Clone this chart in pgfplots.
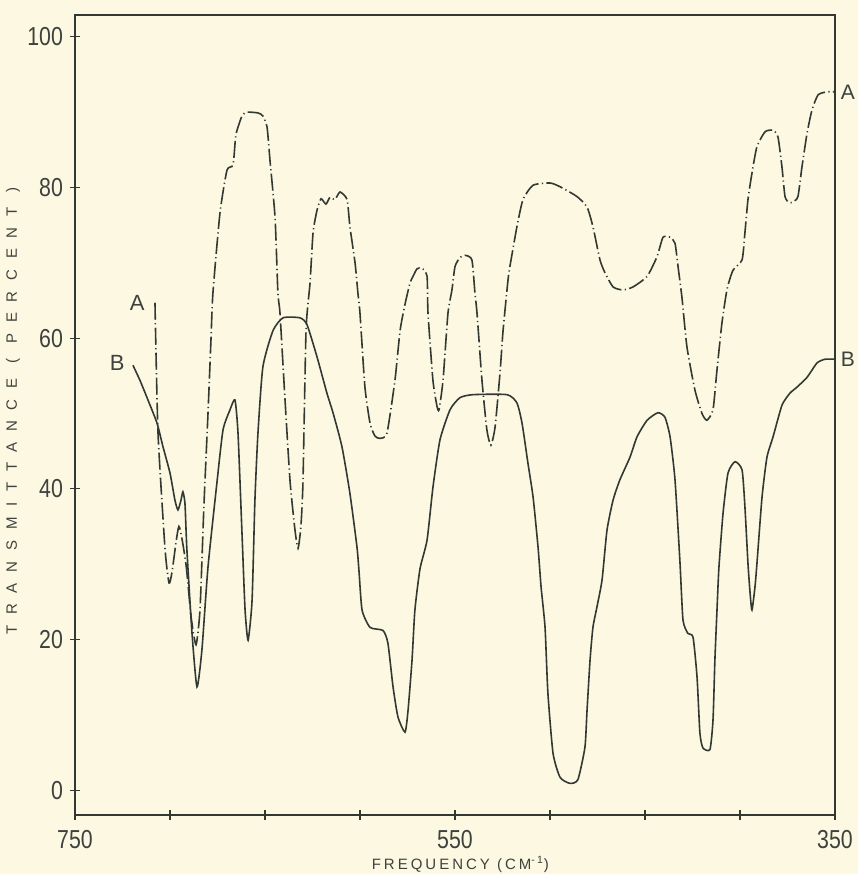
\documentclass[border=0pt]{standalone}
\usepackage{fontspec}
\setmainfont{Liberation Sans}[FakeStretch=0.82]
\newfontfamily\xlabfont[LetterSpace=20]{Liberation Sans}
\newfontfamily\ylabfont[LetterSpace=72]{Liberation Sans}
\newfontfamily\curvefont{Liberation Sans}
\usepackage{pgfplots}
\pgfplotsset{compat=1.18}
\usetikzlibrary{backgrounds}
\definecolor{paper}{HTML}{FCF8E2}
\definecolor{ink}{HTML}{323832}
\definecolor{txt}{HTML}{3E423E}
\begin{document}
\begin{tikzpicture}[background rectangle/.style={fill=paper,draw=none},
  show background rectangle, inner frame sep=0pt]
\begin{axis}[
  name=ax,
  scale only axis,
  width=380pt, height=400pt,
  x dir=reverse,
  xmin=350, xmax=750,
  ymin=-3.3, ymax=102.9,
  xtick={350,400,...,750},
  xticklabels={350,,,,550,,,,750},
  ytick={0,20,...,100},
  xtick pos=bottom, ytick pos=left,
  tick align=center,
  major tick length=5pt,
  axis line style={ink, line width=0.6pt},
  tick style={ink, line width=0.6pt},
  /pgf/number format/assume math mode=true,
  ticklabel style={font=\fontsize{13}{14}\selectfont, text=txt},
  xticklabel style={yshift=-1.5pt},
  xlabel={\xlabfont\fontsize{7.5}{9}\selectfont FREQUENCY (CM\textsuperscript{-1})},
  ylabel={\ylabfont\fontsize{7.5}{8}\selectfont TRANSMITTANCE ( PERCENT )},
  every axis x label/.style={at={(rel axis cs:0.507,0)}, yshift=-24.5pt, anchor=center, text=txt},
  every axis y label/.style={at={(rel axis cs:0,0.505)}, xshift=-31pt, anchor=center, rotate=90, text=txt},
  clip=false,
]
% curve A, dash-dot
\addplot[ink, line width=0.8pt, smooth, tension=0.35,
  dash pattern=on 8.5pt off 1.7pt on 0.6pt off 1.7pt] coordinates {
(707.9,64.7) (706.3,47.4) (702.6,32) (700.5,27.5) (698.9,29) (695.3,35) (691.6,30)
(688.9,23) (686.3,19.3) (684.2,24) (682.1,38) (680.0,50) (678.4,60) (677.4,66)
(673.7,76.6) (670.0,82.3) (666.8,83) (665.3,87) (662.1,89.5) (659.5,90) (653.7,89.9)
(651.1,89.5) (648.9,88) (647.4,83.7) (644.7,76) (643.2,66) (642.1,63.3) (639.5,52)
(636.8,41) (634.2,34.5) (632.6,32.1) (631.1,35) (630.0,41) (628.4,61) (626.3,67.3)
(624.7,74) (622.6,77) (620.5,78.5) (617.9,77.8) (615.8,78.7) (613.2,78.4) (610.5,79.4)
(606.8,78.4) (605.3,74.8) (602.6,70) (601.1,66) (600.0,63.3) (597.4,53.5) (594.7,48.7)
(592.1,47) (589.5,46.7) (585.8,47.4) (581.6,54.4) (578.9,61) (576.3,64.5) (573.7,67.3)
(572.1,68.2) (570.0,69.2) (567.4,69.3) (564.7,68.2) (564.2,63.3) (561.6,54.4) (559.5,51)
(558.4,50.5) (556.3,54.4) (553.7,63.3) (551.6,66.4) (550.0,69.5) (547.4,70.7) (544.7,71)
(541.1,70.4) (539.5,66) (538.4,63.3) (535.8,54.4) (533.2,47.8) (531.1,45.8) (528.9,48.2)
(526.3,55.4) (524.7,61) (522.1,67.7) (521.1,69.5) (517.4,74.8) (514.2,78.4) (508.9,80.3)
(500.0,80.6) (494.7,80.1) (485.8,78.8) (480.5,77.4) (477.4,74.8) (473.7,70.4) (471.1,68.7)
(466.8,66.8) (461.6,66.4) (456.3,66.8) (448.9,68.2) (443.7,70.8) (440.5,73.4) (436.8,73.4)
(434.2,72.6) (432.6,69.5) (430.5,65.3) (427.9,58.8) (423.7,53.1) (420.0,50) (417.4,49.1)
(414.2,50.5) (412.1,55.8) (409.5,62) (406.8,66.5) (403.7,69) (398.9,70.4) (397.4,74)
(395.8,78.4) (393.7,81.9) (391.1,85.4) (386.8,87.4) (382.6,87.6) (380.0,86.7) (377.9,82.7)
(376.3,78.8) (374.2,78) (372.1,78.1) (369.5,78.8) (367.4,82.7) (364.7,87.2) (362.1,90.3)
(358.9,92.3) (354.2,92.7) (350.0,92.7)
} node[pos=0, anchor=east, xshift=-1.5pt, text=txt, font=\curvefont\fontsize{11}{12}\selectfont] {A}
  node[pos=1, anchor=west, inner sep=0.5pt, xshift=2pt, text=txt, font=\curvefont\fontsize{10.5}{12}\selectfont] {A};
% curve B, solid
\addplot[ink, line width=0.8pt, smooth, tension=0.35] coordinates {
(719.5,56.4) (715.8,54.4) (711.6,51.8) (706.8,48.7) (703.7,45.6) (700.0,42.1) (697.4,38.5)
(695.8,37.2) (694.2,38.5) (693.2,39.6) (692.1,38) (691.1,31.9) (688.4,20.8) (685.8,13.7)
(683.2,18.6) (680.0,29.6) (675.3,40.8) (672.1,47.8) (668.4,50.5) (665.8,51.8) (664.2,47.4)
(662.1,34.1) (660.5,24) (658.9,19.9) (656.8,25.2) (655.3,38.5) (653.7,47.4) (651.1,56.2)
(645.8,61) (640.5,62.7) (631.6,62.7) (627.9,61.8) (622.6,57.5) (617.4,52.7) (614.2,50.1)
(609.5,45.6) (605.3,39.4) (601.6,32.3) (600.5,29) (598.9,23.9) (594.7,21.6) (587.9,21.2)
(585.3,19.5) (582.6,13.7) (580.0,9.7) (576.3,7.7) (574.7,10.6) (572.6,17.3) (571.1,23.9)
(568.4,29.4) (564.7,33.2) (561.6,40.2) (557.9,46.5) (552.6,50.5) (547.4,52.1) (540.5,52.5)
(522.6,52.5) (517.4,51.4) (514.7,48.7) (511.6,43.4) (508.9,38.9) (506.3,32.3) (504.7,27)
(502.6,21.6) (501.1,12.9) (498.4,4.9) (494.7,1.7) (489.5,0.9) (485.3,1.4) (481.6,5.7)
(480.5,10.6) (478.9,17.3) (477.4,21.6) (475.3,24.3) (472.6,27.9) (470.0,34.5) (466.8,38.5)
(463.2,41.2) (457.9,44.2) (454.2,46.9) (448.9,49.1) (443.2,50.1) (439.5,49.5) (436.8,46.9)
(434.2,41.2) (431.6,30.3) (430.0,22.6) (427.4,20.8) (424.7,20.3) (422.6,15) (421.1,7.6)
(419.5,5.6) (415.8,5.4) (414.2,9.3) (413.2,17.3) (412.1,23.9) (411.1,29.5) (408.9,36.8)
(406.3,42.1) (402.6,43.6) (398.9,42.5) (397.4,37.6) (395.8,30.1) (394.7,26.2) (393.7,23.9)
(392.1,27) (391.1,30) (388.4,38.9) (385.8,44.2) (382.6,46.9) (377.9,51.1) (373.7,52.7)
(370.0,53.5) (364.7,54.8) (359.5,56.7) (355.3,57.2) (350.0,57.2)
} node[pos=0, anchor=east, xshift=-0.5pt, yshift=1pt, text=txt, font=\curvefont\fontsize{11}{12}\selectfont] {B}
  node[pos=1, anchor=west, inner sep=0.5pt, xshift=2pt, text=txt, font=\curvefont\fontsize{10.5}{12}\selectfont] {B};
\end{axis}
\pgfresetboundingbox
\path ([xshift=-37.5pt,yshift=-29.5pt]ax.south west) rectangle ([xshift=11.5pt,yshift=7.5pt]ax.north east);
\end{tikzpicture}
\end{document}
